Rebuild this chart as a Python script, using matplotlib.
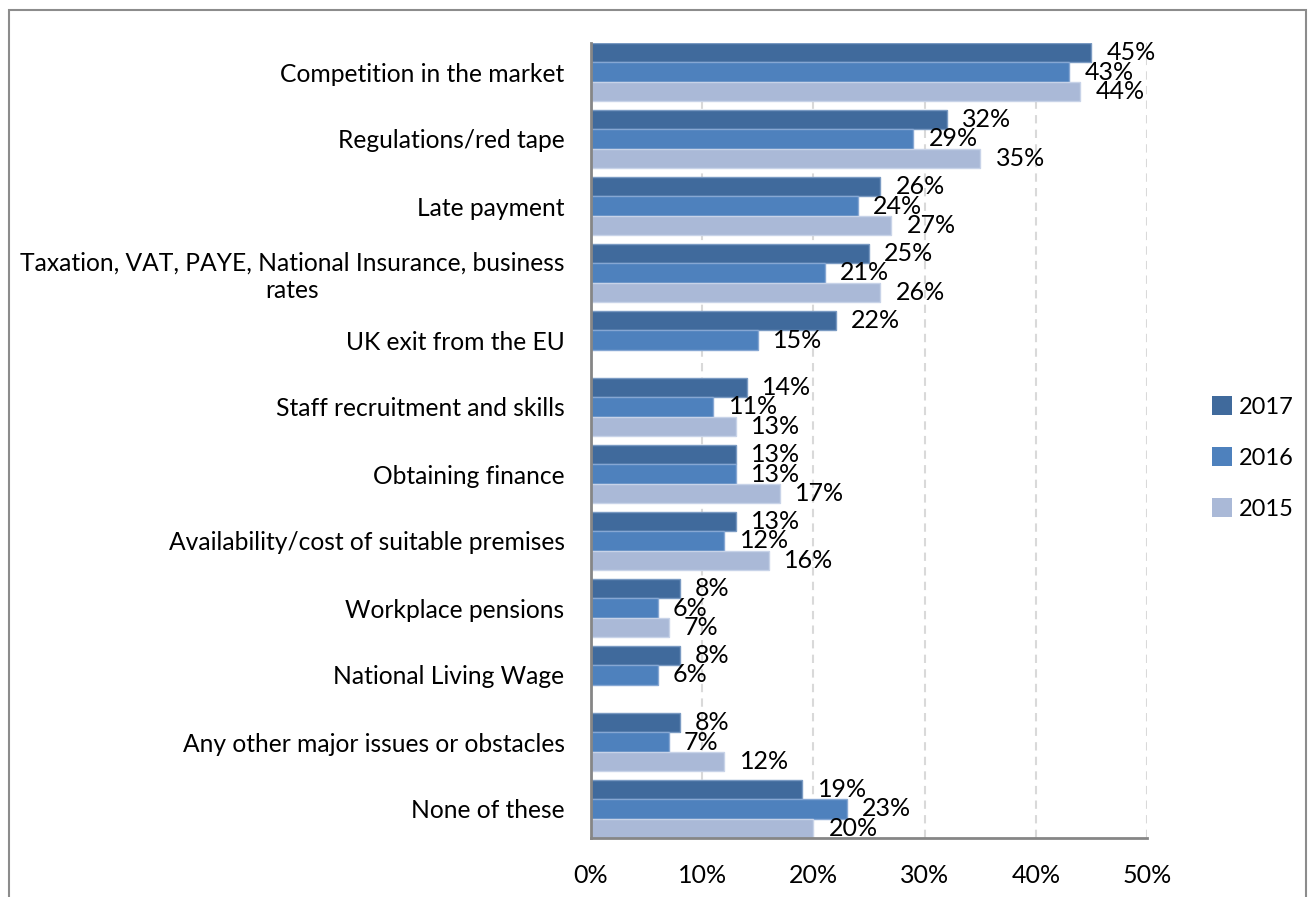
import matplotlib
matplotlib.use("Agg")
import matplotlib.pyplot as plt
from matplotlib.patches import Rectangle
import numpy as np

plt.rcParams['font.family'] = ['Lato', 'DejaVu Sans']

categories = [
    "Competition in the market",
    "Regulations/red tape",
    "Late payment",
    "Taxation, VAT, PAYE, National Insurance, business\nrates",
    "UK exit from the EU",
    "Staff recruitment and skills",
    "Obtaining finance",
    "Availability/cost of suitable premises",
    "Workplace pensions",
    "National Living Wage",
    "Any other major issues or obstacles",
    "None of these",
]
series_names = ["2017", "2016", "2015"]
v2017 = [45, 32, 26, 25, 22, 14, 13, 13, 8, 8, 8, 19]
v2016 = [43, 29, 24, 21, 15, 11, 13, 12, 6, 6, 7, 23]
v2015 = [44, 35, 27, 26, None, 13, 17, 16, 7, None, 12, 20]
colors = ["#406A9C", "#4E81BD", "#AAB9D7"]
edges = ["#7A9AC2", "#86A7D3", "#C8D3E8"]
xticks = [0, 10, 20, 30, 40, 50]
xtick_labels = ["0%", "10%", "20%", "30%", "40%", "50%"]

W, H = 1314, 897
fig = plt.figure(figsize=(W / 100, H / 100), dpi=100)
ax = fig.add_axes([591 / W, 1 - 838 / H, (1147 - 591) / W, (838 - 43) / H])

n = len(categories)
y = np.arange(n)
group = 58 / 67
h = group / 3
fs = 17.7

for k, (vals, col, ec, name) in enumerate(zip([v2017, v2016, v2015], colors, edges, series_names)):
    ys = y - group / 2 + h * (k + 0.5)
    for yi, v in zip(ys, vals):
        if v is None:
            continue
        ax.barh(yi, v, height=h, color=col, edgecolor=ec, linewidth=1.0, zorder=3)
        ax.annotate(f"{v}%", xy=(v, yi), xytext=(11, 0), textcoords="offset points",
                    ha="left", va="center", fontsize=18, color="black", zorder=4)
    ax.barh([np.nan], [np.nan], color=col, label=name)

ax.set_ylim(n - 1 + group / 2, -group / 2)
ax.set_xlim(0, 50)
ax.set_xticks(xticks)
ax.set_xticklabels(xtick_labels, fontsize=18)
ax.set_yticks(y)
ax.set_yticklabels(categories, fontsize=fs, multialignment="center")
ax.tick_params(axis="x", length=0, pad=19)
ax.tick_params(axis="y", length=0, pad=19)
ax.grid(axis="x", color="#D9D9D9", linestyle=(0, (4, 3)), linewidth=1.5, zorder=0)
for s in ["top", "right"]:
    ax.spines[s].set_visible(False)
for s in ["left", "bottom"]:
    ax.spines[s].set_color("#868686")
    ax.spines[s].set_linewidth(2)
    ax.spines[s].set_zorder(5)

handles, labels = ax.get_legend_handles_labels()
leg = fig.legend(handles, labels, loc="center left", bbox_to_anchor=(1212 / W, 1 - 458 / H),
                 frameon=False, fontsize=17, handlelength=0.85, handleheight=0.85,
                 labelspacing=1.25, handletextpad=0.3, borderpad=0, borderaxespad=0)

fig.patches.append(Rectangle((9 / W, -0.01), (1306 - 9) / W, 1 - 10 / H + 0.01,
                             transform=fig.transFigure, fill=False, edgecolor="#8C8C8C",
                             linewidth=1.5))

fig.savefig("out.png", dpi=100)
